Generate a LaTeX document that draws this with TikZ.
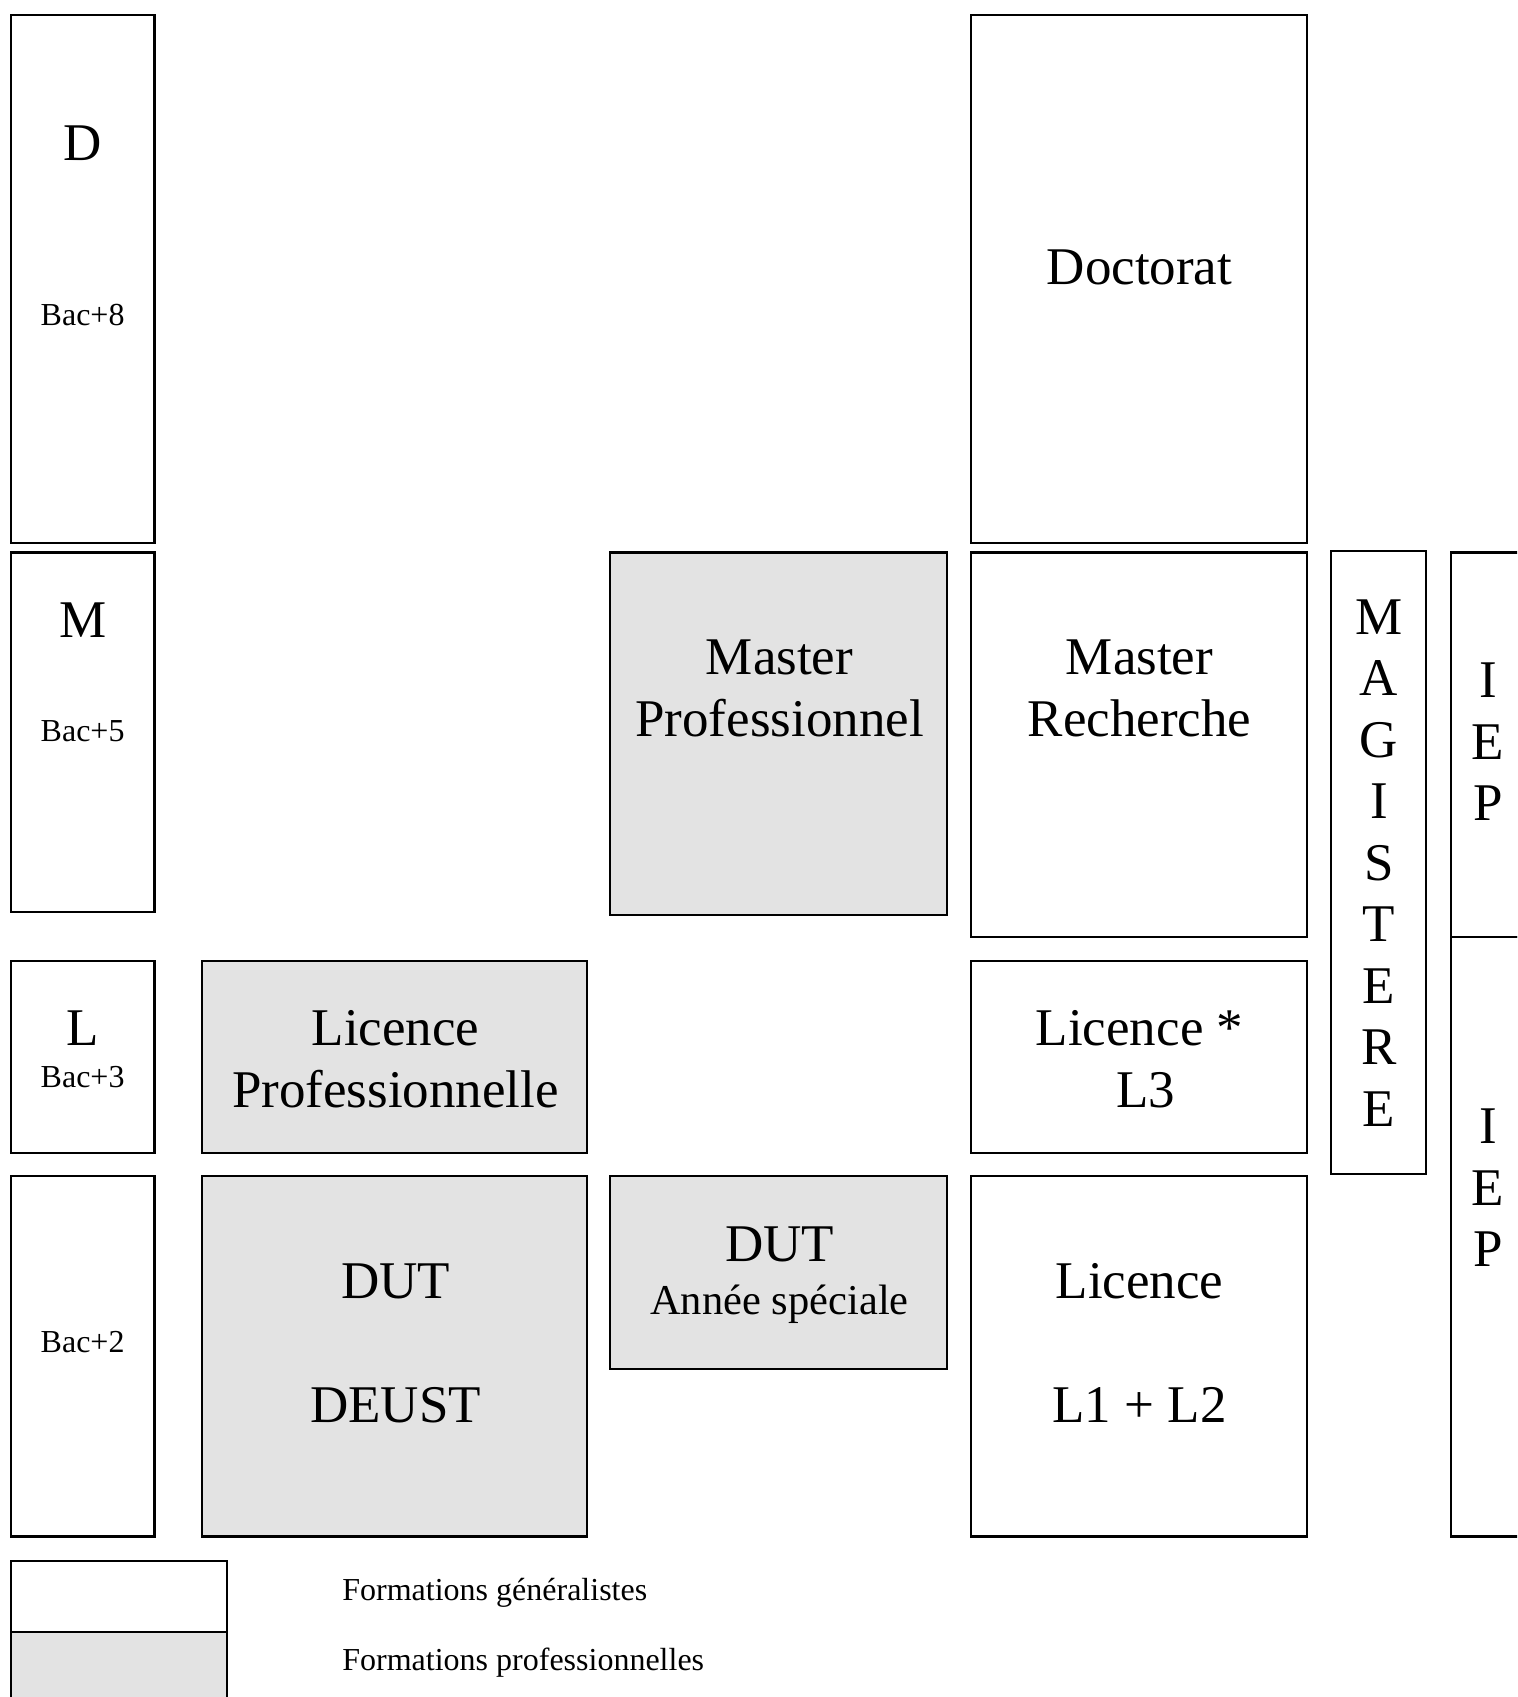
\documentclass[tikz,border=0pt]{standalone}
\usepackage{fontspec}
\setmainfont{Liberation Serif}
\definecolor{progrey}{gray}{0.89}
\tikzset{
  genbox/.style={draw=black, line width=1.1pt, fill=white},
  probox/.style={draw=black, line width=1.1pt, fill=progrey},
  bigtxt/.style={font=\fontsize{26.5}{30}\selectfont, inner sep=0pt, anchor=base},
  smalltxt/.style={font=\fontsize{16}{19}\selectfont, inner sep=0pt, anchor=base},
  midtxt/.style={font=\fontsize{21.25}{25}\selectfont, inner sep=0pt, anchor=base},
  legtxt/.style={font=\fontsize{16}{19}\selectfont, inner sep=0pt, anchor=base west},
}
\begin{document}
\begin{tikzpicture}[x=0.5pt,y=-0.5pt]
\useasboundingbox (0,0) rectangle (1517,1697);
\clip (0,0) rectangle (1517,1697);

% left column: levels
\path[genbox] (10.7,14.7) rectangle (154.5,543);
\path[genbox] (10.7,552.5) rectangle (154.5,912);
\path[genbox] (10.7,960.7) rectangle (154.5,1152.7);
\path[genbox] (10.7,1176) rectangle (154.5,1536.4);
\node[bigtxt] (lD) at (82.6,160.5) {D};
\node[smalltxt] (b8) at (82.6,325.5) {Bac+8};
\node[bigtxt] (lM) at (82.6,637.5) {M};
\node[smalltxt] (b5) at (82.6,741.5) {Bac+5};
\node[bigtxt] (lL) at (82.6,1045.5) {L};
\node[smalltxt] (b3) at (82.6,1087.5) {Bac+3};
\node[smalltxt] (b2) at (82.6,1352.5) {Bac+2};

% professional column 2
\path[probox] (202.3,960.7) rectangle (587,1152.7);
\path[probox] (202.3,1176) rectangle (587,1536.4);
\node[bigtxt] (lp1) at (395.5,1045) {Licence};
\node[bigtxt] (lp2) at (395.5,1107.3) {Professionnelle};
\node[bigtxt] (dut1) at (395.5,1298.5) {DUT};
\node[bigtxt] (deust) at (395.5,1422) {DEUST};

% professional column 3
\path[probox] (610,552.5) rectangle (947,915.3);
\path[probox] (610,1176) rectangle (947,1368.7);
\node[bigtxt] (mp1) at (779.5,674) {Master};
\node[bigtxt] (mp2) at (779.5,736) {Professionnel};
\node[bigtxt] (dut2) at (779.5,1261.7) {DUT};
\node[midtxt] (as) at (779.5,1314) {Année spéciale};

% general column 4
\path[genbox] (970.7,14.7) rectangle (1307.3,543);
\path[genbox] (970.7,552.5) rectangle (1307.3,936.7);
\path[genbox] (970.7,961) rectangle (1307.3,1152.7);
\path[genbox] (970.7,1176) rectangle (1307.3,1536.4);
\node[bigtxt] (doc) at (1139.5,284.5) {Doctorat};
\node[bigtxt] (mr1) at (1139.5,674) {Master};
\node[bigtxt] (mr2) at (1139.5,736) {Recherche};
\node[bigtxt] (l31) at (1139.5,1045) {Licence *};
\node[bigtxt] (l32) at (1145.5,1107.3) {L3};
\node[bigtxt] (lic) at (1139.5,1298.5) {Licence};
\node[bigtxt] (l12) at (1139.5,1422) {L1 + L2};

% Magistere
\path[genbox] (1331,550.7) rectangle (1426,1174);
\foreach \ch [count=\i from 0] in {M,A,G,I,S,T,E,R,E}
  \node[bigtxt] (mag\i) at (1379,634+61.5*\i) {\ch};

% IEP
\path[genbox] (1451,552.5) rectangle (1540,936.7);
\path[genbox] (1451,936.7) rectangle (1540,1536.4);
\foreach \ch [count=\i from 0] in {I,E,P}
  \node[bigtxt] (iepa\i) at (1488,697.5+61.7*\i) {\ch};
\foreach \ch [count=\i from 0] in {I,E,P}
  \node[bigtxt] (iepb\i) at (1488,1143.5+61.7*\i) {\ch};

% legend
\path[genbox] (10.7,1561) rectangle (227,1632.3);
\path[probox] (10.7,1632.3) rectangle (227,1720);
\node[legtxt] (lg1) at (342,1600.5) {Formations généralistes};
\node[legtxt] (lg2) at (342,1670) {Formations professionnelles};
\end{tikzpicture}
\end{document}
